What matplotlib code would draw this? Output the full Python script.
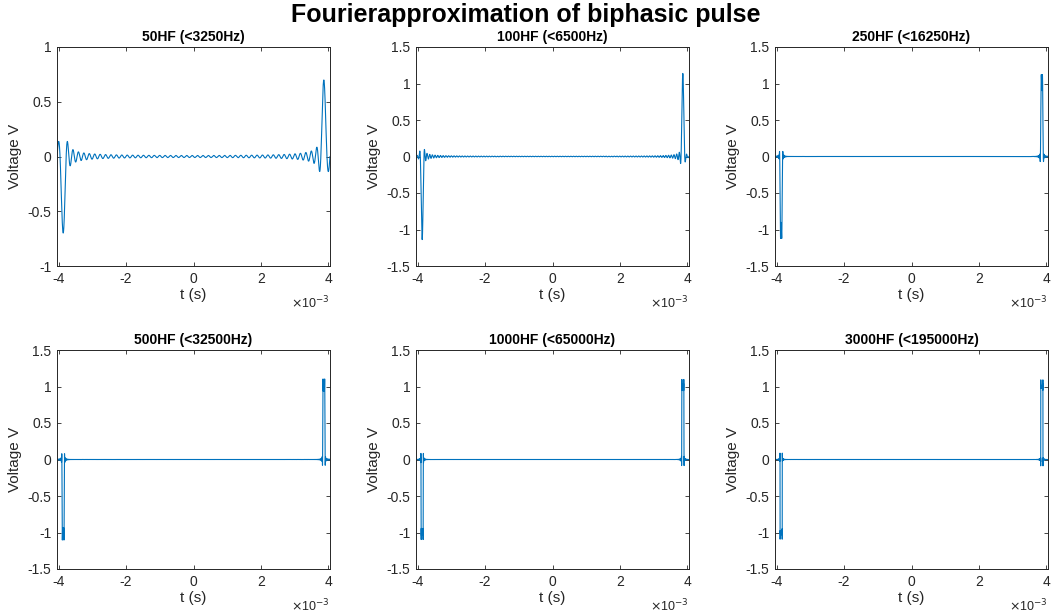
import numpy as np
import matplotlib
matplotlib.use('Agg')
import matplotlib.pyplot as plt

plt.rcParams['font.family'] = ['Liberation Sans', 'DejaVu Sans']

# biphasic pulse over one period (seconds, volts)
period = 8.1e-3
phase_start = [-3.9e-3, 3.835e-3]
phase_end = [-3.835e-3, 3.9e-3]
phase_level = [-1.0, 1.0]

# number of harmonics kept and the cutoff quoted in each title
harmonics = [50, 100, 250, 500, 1000, 3000]
cutoff_hz = [3250, 6500, 16250, 32500, 65000, 195000]

y_limits = [(-1, 1), (-1.5, 1.5), (-1.5, 1.5), (-1.5, 1.5), (-1.5, 1.5), (-1.5, 1.5)]
y_ticks = [[-1, -0.5, 0, 0.5, 1]] + [[-1.5, -1, -0.5, 0, 0.5, 1, 1.5]] * 5
x_ticks = [-4, -2, 0, 2, 4]

M = 2 ** 16
t = -period / 2 + np.arange(M) * period / M
pulse = np.zeros(M)
for a, b, v in zip(phase_start, phase_end, phase_level):
    pulse[(t >= a) & (t < b)] = v
spec = np.fft.fft(pulse)
k = np.fft.fftfreq(M, d=1.0 / M)


def partial_sum(n):
    s = spec.copy()
    s[np.abs(k) > n] = 0
    return np.real(np.fft.ifft(s))


fig = plt.figure(figsize=(10.51, 6.15), dpi=100)
W, H = 1051.0, 615.0
lefts = [57, 416, 775]
tops = [47, 350]
aw, ah = 273, 219
ax_col = '#262626'

for i, n in enumerate(harmonics):
    r, c = divmod(i, 3)
    ax = fig.add_axes([lefts[c] / W, 1 - (tops[r] + ah) / H, aw / W, ah / H])
    ax.plot(t * 1e3, partial_sum(n), color='#0072BD', lw=0.8)
    ax.set_xlim(-4.05, 4.05)
    ax.set_ylim(*y_limits[i])
    ax.set_xticks(x_ticks)
    ax.set_xticklabels([str(v) for v in x_ticks])
    ax.set_yticks(y_ticks[i])
    ax.set_yticklabels(['%g' % v for v in y_ticks[i]])
    ax.tick_params(direction='in', length=3, width=0.6, colors=ax_col,
                   labelsize=10, top=True, right=True, pad=4)
    ax.tick_params(labeltop=False, labelright=False)
    for sp in ax.spines.values():
        sp.set_color(ax_col)
        sp.set_linewidth(0.7)
    ax.set_title('%dHF (<%dHz)' % (n, cutoff_hz[i]), fontsize=10,
                 fontweight='bold', color='black', pad=4)
    ax.set_xlabel('t (s)', fontsize=11, color=ax_col, labelpad=2)
    ax.set_ylabel('Voltage V', fontsize=11, color=ax_col, labelpad=4)
    ax.text(1.0, -0.13, r'$\times$10$^{-3}$', transform=ax.transAxes,
            ha='right', va='top', fontsize=9, color=ax_col)

fig.suptitle('Fourierapproximation of biphasic pulse', fontsize=18,
             fontweight='bold', y=0.995)
fig.savefig('out.png', dpi=100)
